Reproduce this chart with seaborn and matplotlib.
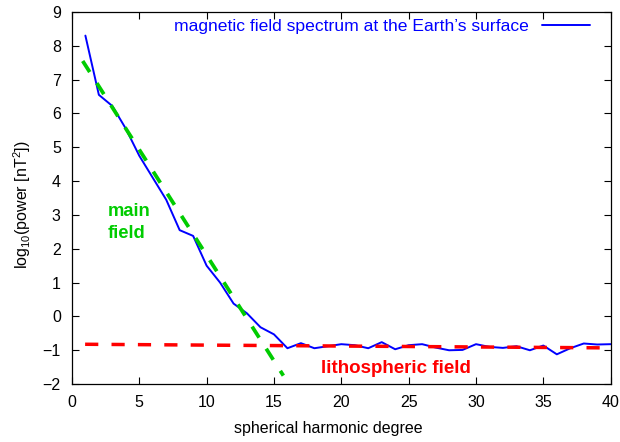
import matplotlib
matplotlib.use("Agg")
import matplotlib.pyplot as plt
import seaborn as sns
import pandas as pd

# Data
degree = list(range(1, 41))
log_power = [8.3, 6.55, 6.22, 5.55, 4.75, 4.1, 3.45, 2.55, 2.38, 1.5,
             1.0, 0.38, 0.09, -0.32, -0.53, -0.94, -0.79, -0.94, -0.88, -0.82,
             -0.85, -0.94, -0.76, -0.97, -0.85, -0.82, -0.92, -1.0, -0.99, -0.82,
             -0.9, -0.93, -0.88, -1.0, -0.86, -1.12, -0.94, -0.8, -0.83, -0.82]
main_x = [0.8, 15.7]
main_y = [7.55, -1.75]
litho_x = [0, 40]
litho_y = [-0.82, -0.93]

sns.set_theme(style="ticks")
plt.rcParams['font.family'] = ['Liberation Sans', 'DejaVu Sans']
plt.rcParams['mathtext.fontset'] = 'custom'
plt.rcParams['mathtext.rm'] = 'Liberation Sans'
plt.rcParams['text.color'] = 'black'
plt.rcParams['axes.labelcolor'] = 'black'
plt.rcParams['xtick.color'] = 'black'
plt.rcParams['ytick.color'] = 'black'

fig = plt.figure(figsize=(6.2, 4.42), dpi=100)
ax = fig.add_axes([0.116, 0.131, 0.869, 0.842])

df = pd.DataFrame({"degree": degree, "log_power": log_power})
sns.lineplot(data=df, x="degree", y="log_power", ax=ax, color="#0000ff", lw=1.4,
             label="magnetic field spectrum at the Earth\u2019s surface")
sns.lineplot(x=main_x, y=main_y, ax=ax, color="#00cc00", lw=2.7,
             linestyle=(0, (3.5, 3.5)))
sns.lineplot(x=litho_x, y=litho_y, ax=ax, color="#ff0000", lw=2.5,
             linestyle=(3.8, (3.8, 3.8)))

ax.set_xlim(0, 40)
ax.set_ylim(-2, 9)
ax.set_xticks(range(0, 41, 5))
ax.set_yticks(range(-2, 10))
ax.tick_params(direction="in", top=True, right=True, labelsize=11.5, length=5,
               width=0.8, colors="black", pad=8)
for s in ax.spines.values():
    s.set_linewidth(0.9)
    s.set_color("black")
ax.set_xlabel("spherical harmonic degree", fontsize=11.5)
ax.set_ylabel(r"log$_{10}$(power [nT$^2$])", fontsize=11.5)
ax.xaxis.set_label_coords(0.475, -0.098)
ax.yaxis.set_label_coords(-0.072, 0.481)

ax.text(2.65, 3.35, "main\nfield", color="#00cc00", fontsize=13.2, fontweight="bold",
        ha="left", va="top", linespacing=1.4)
ax.text(18.5, -1.55, "lithospheric field", color="#ff0000", fontsize=13.5,
        fontweight="bold", ha="left", va="center")

leg = ax.legend(loc="upper right", frameon=False, markerfirst=False, fontsize=12.6,
                handlelength=2.7, handletextpad=0.8, borderaxespad=0.0,
                bbox_to_anchor=(0.974, 1.0))
for t in leg.get_texts():
    t.set_color("#0000ff")

fig.savefig("out.png", dpi=100)
